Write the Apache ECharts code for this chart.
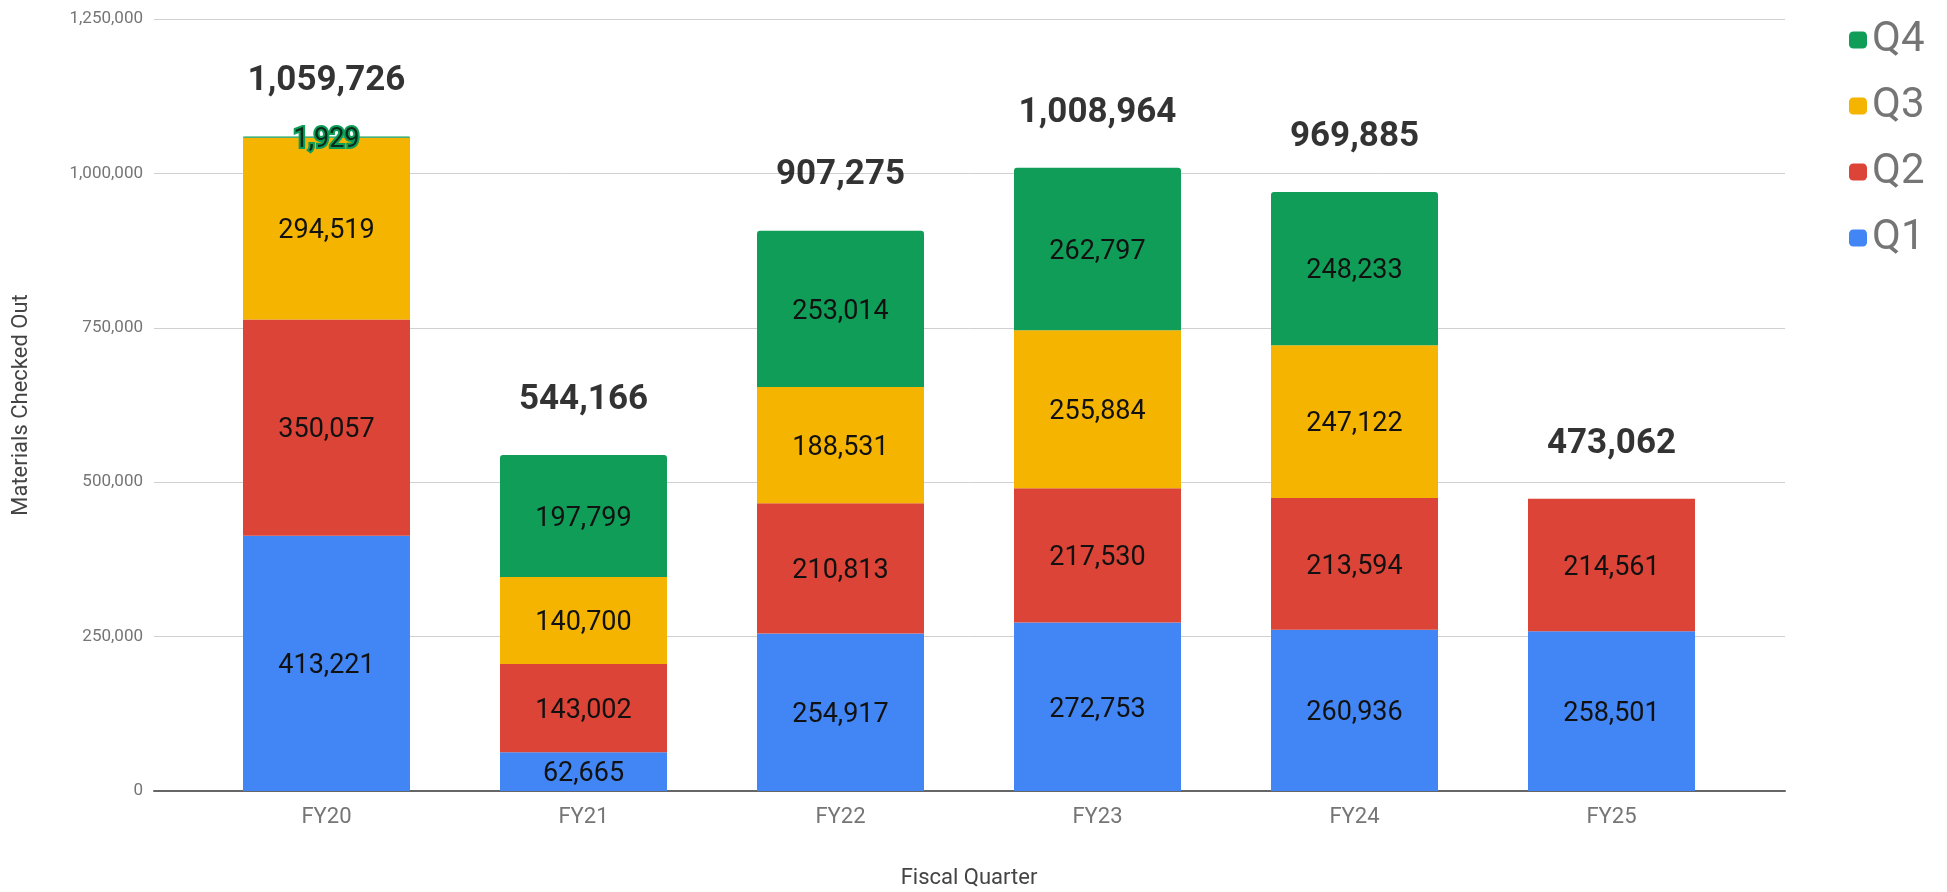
<!DOCTYPE html>
<html>
<head>
<meta charset="utf-8">
<script src="https://cdn.jsdelivr.net/npm/echarts@6/dist/echarts.min.js"></script>
<style>html,body{margin:0;padding:0;background:#fff;}#c{width:1947px;height:892px;}</style>
</head>
<body>
<div id="c"></div>
<script>
const categories = ['FY20', 'FY21', 'FY22', 'FY23', 'FY24', 'FY25'];
const q1 = [413221, 62665, 254917, 272753, 260936, 258501];
const q2 = [350057, 143002, 210813, 217530, 213594, 214561];
const q3 = [294519, 140700, 188531, 255884, 247122, null];
const q4 = [1929, 197799, 253014, 262797, 248233, null];
const yTicks = [0, 250000, 500000, 750000, 1000000, 1250000];

const totals = categories.map((_, i) => [q1, q2, q3, q4].reduce((s, a) => s + (a[i] || 0), 0));
const fmt = v => Number(v).toLocaleString('en-US');
const FONT = 'Roboto';
const colors = { Q1: '#4285f4', Q2: '#db4437', Q3: '#f4b400', Q4: '#0f9d58' };

function segSeries(name, data, extra) {
  return Object.assign({
    name: name, type: 'bar', stack: 'total', xAxisIndex: 1, yAxisIndex: 1,
    barWidth: 167, data: data,
    itemStyle: { color: colors[name] },
    label: { show: true, position: 'inside', offset: [0, 3], formatter: p => fmt(p.value), fontFamily: FONT, fontSize: 27, color: '#111' }
  }, extra || {});
}

const chart = echarts.init(document.getElementById('c'), null, { renderer: 'canvas' });
chart.setOption({
  animation: false,
  backgroundColor: '#fff',
  grid: [
    { left: 154, right: 162, top: 19, bottom: 101, containLabel: false, outerBoundsMode: 'none' },
    { left: 198, right: 207, top: 19, bottom: 101, containLabel: false, outerBoundsMode: 'none' }
  ],
  xAxis: [
    { gridIndex: 0, type: 'value', min: 0, max: 1, axisLabel: { show: false }, axisTick: { show: false }, splitLine: { show: false },
      axisLine: { show: true, lineStyle: { color: '#666', width: 2 } } },
    { gridIndex: 1, type: 'category', data: categories, axisLine: { show: false }, axisTick: { show: false },
      axisLabel: { margin: 15, fontFamily: FONT, fontSize: 22, color: '#757575' },
      name: 'Fiscal Quarter', nameLocation: 'middle', nameGap: 76,
      nameTextStyle: { fontFamily: FONT, fontSize: 22, color: '#444' } }
  ],
  yAxis: [
    { gridIndex: 0, type: 'value', min: yTicks[0], max: yTicks[yTicks.length - 1], interval: yTicks[1] - yTicks[0],
      axisLine: { show: false }, axisTick: { show: false },
      axisLabel: { margin: 11, fontFamily: FONT, fontSize: 17, color: '#757575', formatter: v => fmt(v) },
      splitLine: { show: true, lineStyle: { color: '#d0d0d0', width: 1 } },
      name: 'Materials Checked Out', nameLocation: 'middle', nameGap: 122,
      nameTextStyle: { fontFamily: FONT, fontSize: 22, color: '#444' } },
    { gridIndex: 1, type: 'value', min: yTicks[0], max: yTicks[yTicks.length - 1], interval: yTicks[1] - yTicks[0], show: false,
      splitLine: { show: false } }
  ],
  legend: {
    orient: 'vertical', left: 1844, top: 14, itemWidth: 18, itemHeight: 17, itemGap: 24,
    icon: 'roundRect', data: ['Q4', 'Q3', 'Q2', 'Q1'],
    textStyle: { fontFamily: FONT, fontSize: 42, color: '#757575', lineHeight: 42, padding: [0, 0, 0, 0] }
  },
  series: [
    segSeries('Q1', q1),
    segSeries('Q2', q2),
    segSeries('Q3', q3),
    segSeries('Q4', q4.map(v => (v !== null && v < 20000)
      ? { value: v, label: { textBorderColor: '#0f9d58', textBorderWidth: 4, color: '#0b2a1a' } }
      : v), {
      itemStyle: { color: colors.Q4, borderRadius: [3, 3, 0, 0] }
    }),
    {
      name: 'Total', type: 'scatter', xAxisIndex: 1, yAxisIndex: 1, data: totals, symbolSize: 0, silent: true, z: 10,
      label: { show: true, position: 'inside', offset: [0, -55], formatter: p => fmt(p.value), fontFamily: FONT, fontSize: 35, fontWeight: 'bold', color: '#000' }
    }
  ]
});
</script>
</body>
</html>
